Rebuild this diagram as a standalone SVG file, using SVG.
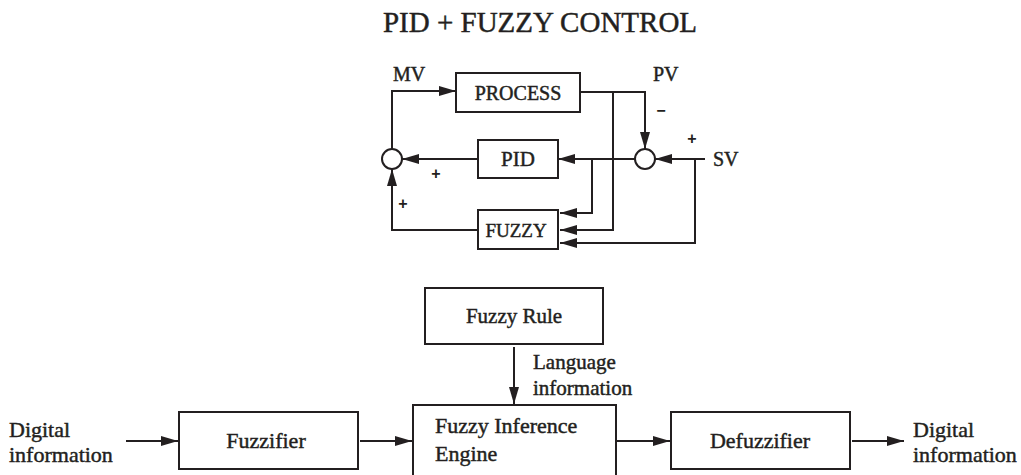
<svg xmlns="http://www.w3.org/2000/svg" width="1021" height="475" viewBox="0 0 1021 475">
<style>
.t{font-family:"Liberation Serif","Times New Roman",serif;fill:#231f20;stroke:#231f20;stroke-width:0.45}
.box{fill:#fff;stroke:#231f20;stroke-width:2}
.ln{fill:none;stroke:#231f20;stroke-width:2}
.sum{fill:#fff;stroke:#231f20;stroke-width:2}
.sg{font-family:"Liberation Sans",Arial,sans-serif;font-weight:bold;fill:#231f20;font-size:16px}
</style>
<defs>
<marker id="ar" markerUnits="userSpaceOnUse" markerWidth="18" markerHeight="12" refX="17" refY="6" orient="auto">
<path d="M0,1 L17,6 L0,11 z" fill="#231f20"/>
</marker>
</defs>
<rect width="1021" height="475" fill="#fff"/>
<text class="t" x="540" y="32" font-size="29" text-anchor="middle">PID + FUZZY CONTROL</text>

<g id="connectors">
<path class="ln" d="M392,149 V91 H456" marker-end="url(#ar)"/>
<path class="ln" d="M580,92 H645 V149" marker-end="url(#ar)"/>
<path class="ln" d="M613,92 V230 H560" marker-end="url(#ar)"/>
<path class="ln" d="M705,159 H655" marker-end="url(#ar)"/>
<path class="ln" d="M695,159 V243 H560" marker-end="url(#ar)"/>
<path class="ln" d="M635,159 H558" marker-end="url(#ar)"/>
<path class="ln" d="M592,159 V213 H560" marker-end="url(#ar)"/>
<path class="ln" d="M478,159 H402" marker-end="url(#ar)"/>
<path class="ln" d="M478,230 H392 V169" marker-end="url(#ar)"/>
<path class="ln" d="M126,441 H178" marker-end="url(#ar)"/>
<path class="ln" d="M360,441 H412" marker-end="url(#ar)"/>
<path class="ln" d="M617,441 H670" marker-end="url(#ar)"/>
<path class="ln" d="M852,441 H904" marker-end="url(#ar)"/>
<path class="ln" d="M514,347 V404" marker-end="url(#ar)"/>
</g>

<g id="labels">
<text class="t" x="393" y="81" font-size="20">MV</text>
<text class="t" x="653" y="81" font-size="20">PV</text>
<text class="t" x="713" y="166" font-size="20">SV</text>
<text class="sg" x="661" y="116" text-anchor="middle">−</text>
<text class="sg" x="692" y="144" text-anchor="middle">+</text>
<text class="sg" x="436" y="179" text-anchor="middle">+</text>
<text class="sg" x="403" y="209" text-anchor="middle">+</text>
<text class="t" x="533" y="369" font-size="21">Language</text>
<text class="t" x="533" y="395" font-size="21">information</text>
<text class="t" x="9" y="437" font-size="22">Digital</text>
<text class="t" x="9" y="462" font-size="22">information</text>
<text class="t" x="913" y="437" font-size="22">Digital</text>
<text class="t" x="913" y="462" font-size="22">information</text>
</g>

<g id="sum-left"><circle class="sum" cx="392" cy="159" r="10"/></g>
<g id="sum-right"><circle class="sum" cx="645" cy="159" r="10"/></g>

<g id="process">
<rect class="box" x="456" y="73" width="124" height="39"/>
<text class="t" x="518" y="100" font-size="20" text-anchor="middle">PROCESS</text>
</g>
<g id="pid">
<rect class="box" x="478" y="140" width="80" height="38"/>
<text class="t" x="518" y="166" font-size="21" text-anchor="middle">PID</text>
</g>
<g id="fuzzy">
<rect class="box" x="478" y="210" width="80" height="39"/>
<text class="t" x="516" y="237" font-size="19" text-anchor="middle">FUZZY</text>
</g>

<g id="fuzzy-rule">
<rect class="box" x="425" y="288" width="178" height="56"/>
<text class="t" x="514" y="323" font-size="21" text-anchor="middle">Fuzzy Rule</text>
</g>
<g id="fuzzifier">
<rect class="box" x="179" y="412" width="179" height="57"/>
<text class="t" x="266" y="448" font-size="22" text-anchor="middle">Fuzzifier</text>
</g>
<g id="inference">
<rect class="box" x="413" y="405" width="203" height="80"/>
<text class="t" x="435" y="433" font-size="22">Fuzzy Inference</text>
<text class="t" x="435" y="461" font-size="22">Engine</text>
</g>
<g id="defuzzifier">
<rect class="box" x="671" y="412" width="179" height="57"/>
<text class="t" x="760" y="448" font-size="22" text-anchor="middle">Defuzzifier</text>
</g>
</svg>
